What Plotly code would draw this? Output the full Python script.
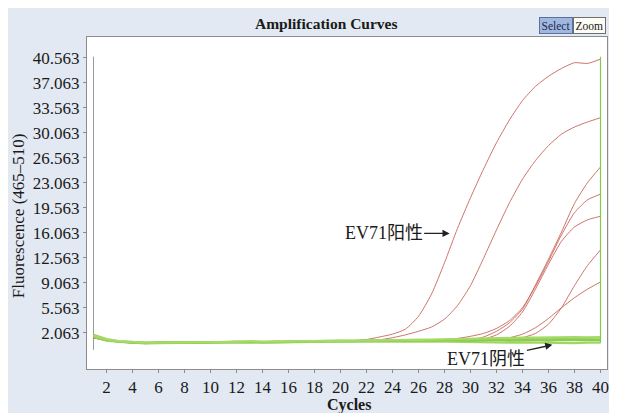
import plotly.graph_objects as go

cycles = list(range(1, 41))

# positive (red) curves
red_a = [1.45,1.05,0.85,0.7,0.7,0.75,0.8,0.75,0.75,0.8,0.85,0.9,0.85,0.8,0.85,0.9,0.9,0.95,0.9,0.95,
         1.0,1.15,1.5,1.9,2.6,4.4,7.5,11.9,16.7,21.0,25.0,28.7,31.9,34.6,36.6,38.0,39.1,39.9,39.8,40.4]
red_b = [1.4,1.0,0.8,0.7,0.65,0.7,0.75,0.8,0.7,0.75,0.8,0.85,0.8,0.85,0.9,0.85,0.9,0.9,0.95,1.0,
         1.0,1.05,1.1,1.4,1.8,2.3,2.9,4.0,5.9,8.7,12.5,16.5,20.3,23.6,26.2,28.3,29.9,30.9,31.6,32.2]
red_c = [1.5,1.05,0.8,0.65,0.7,0.75,0.7,0.75,0.8,0.75,0.8,0.85,0.9,0.85,0.8,0.9,0.85,0.9,0.95,0.9,
         0.95,1.0,0.95,1.0,1.05,1.0,1.05,1.0,1.05,1.1,1.5,2.3,3.5,5.4,8.8,12.4,16.2,20.2,23.1,25.3]
red_d = [1.35,1.0,0.8,0.7,0.7,0.7,0.75,0.7,0.75,0.8,0.8,0.8,0.85,0.8,0.85,0.85,0.9,0.85,0.9,0.95,
         0.95,1.0,1.0,1.05,1.0,1.1,1.05,1.15,1.3,1.6,2.0,2.7,3.8,5.6,8.6,12.1,15.8,18.9,20.7,21.5]
red_e = [1.45,1.0,0.85,0.7,0.65,0.7,0.7,0.75,0.75,0.7,0.8,0.85,0.8,0.8,0.9,0.85,0.85,0.9,0.9,0.95,
         0.9,0.95,1.0,0.95,1.0,1.05,1.0,1.05,1.1,1.05,1.2,1.8,3.0,5.0,8.2,11.7,14.9,16.9,17.9,18.4]
red_f = [1.4,1.05,0.8,0.7,0.7,0.7,0.75,0.75,0.8,0.75,0.8,0.8,0.85,0.85,0.8,0.85,0.9,0.9,0.85,0.9,
         0.95,0.95,1.0,0.95,1.0,1.0,1.05,1.0,1.05,1.0,1.05,1.0,1.1,1.4,2.0,3.3,5.6,8.7,11.5,13.7]
red_g = [1.5,1.0,0.85,0.65,0.65,0.75,0.7,0.8,0.75,0.8,0.75,0.85,0.85,0.8,0.85,0.9,0.85,0.95,0.9,0.9,
         1.0,0.95,1.0,1.0,1.05,1.0,1.0,1.05,1.0,1.05,1.0,1.1,1.4,1.9,2.8,4.1,5.6,7.0,8.2,9.2]
red_series = [red_a, red_b, red_c, red_d, red_e, red_f, red_g]

# negative (green) curves
green_1 = [1.8,1.2,0.9,0.75,0.7,0.75,0.8,0.8,0.75,0.8,0.85,0.9,0.85,0.8,0.85,0.9,0.95,0.9,0.95,1.0,
           0.95,1.0,1.05,1.0,1.05,1.1,1.05,1.1,1.15,1.2,1.15,1.2,1.25,1.2,1.3,1.25,1.3,1.35,1.3,1.4]
green_2 = [1.5,1.0,0.8,0.65,0.6,0.65,0.7,0.65,0.7,0.7,0.75,0.8,0.75,0.7,0.75,0.8,0.8,0.8,0.85,0.85,
           0.8,0.85,0.9,0.85,0.8,0.85,0.9,0.85,0.8,0.75,0.8,0.75,0.7,0.75,0.7,0.75,0.7,0.65,0.7,0.7]
green_3 = [1.6,1.1,0.85,0.7,0.65,0.7,0.75,0.75,0.7,0.75,0.8,0.85,0.8,0.75,0.8,0.85,0.85,0.9,0.9,0.9,
           0.95,0.9,0.95,1.0,0.95,1.0,1.05,1.0,1.05,1.0,1.05,1.1,1.0,1.05,1.1,1.0,1.1,1.05,1.1,1.05]
green_4 = [1.7,1.15,0.9,0.75,0.7,0.7,0.75,0.8,0.8,0.8,0.8,0.9,0.9,0.85,0.85,0.9,0.9,0.95,0.95,0.95,
           1.0,1.0,1.0,1.05,1.1,1.1,1.15,1.2,1.2,1.25,1.3,1.35,1.35,1.4,1.4,1.45,1.45,1.5,1.45,1.5]
green_series = [green_1, green_2, green_3, green_4]
green_colors = ["rgb(150,210,90)", "rgb(160,215,100)", "rgb(140,204,80)", "rgb(165,218,105)"]

# vertical marker lines at first / last cycle
left_line_x = [1, 1]
left_line_y = [-0.3, 40.75]
right_line_x = [40, 40]
right_line_y = [0.7, 40.75]

y_ticks = [2.063, 5.563, 9.063, 12.563, 16.063, 19.563, 23.063, 26.563, 30.063, 33.563, 37.063, 40.563]
y_tick_text = ["2.063", "5.563", "9.063", "12.563", "16.063", "19.563", "23.063", "26.563",
               "30.063", "33.563", "37.063", "40.563"]
x_ticks = list(range(2, 41, 2))

SERIF = "Liberation Serif, Times New Roman, serif"
CJK = "Liberation Serif, Noto Sans CJK SC, serif"

fig = go.Figure()
fig.add_trace(go.Scatter(x=left_line_x, y=left_line_y, mode="lines",
                         line=dict(color="#9a9a9a", width=1), hoverinfo="skip"))
for s in red_series:
    fig.add_trace(go.Scatter(x=cycles, y=s, mode="lines",
                             line=dict(color="rgb(200,100,90)", width=0.9,
                                       shape="spline", smoothing=0.6)))
for s, c in zip(green_series, green_colors):
    fig.add_trace(go.Scatter(x=cycles, y=s, mode="lines", line=dict(color=c, width=2.2)))
fig.add_trace(go.Scatter(x=right_line_x, y=right_line_y, mode="lines",
                         line=dict(color="rgb(130,200,80)", width=1.2), hoverinfo="skip"))

# page has an 8px body margin; figure occupies page x 8..617, y 8..413
OFF = 8
W, H = 609, 405
L, R, T, B = 79, 8, 29, 44
pw, ph = W - L - R, H - T - B

def px(xpage):
    return (xpage - OFF - L) / pw

def py(ypage):
    return (H - B - (ypage - OFF)) / ph

fig.update_layout(
    width=W, height=H,
    margin=dict(l=L, r=R, t=T, b=B),
    paper_bgcolor="#e2e9f2",
    plot_bgcolor="white",
    showlegend=False,
    xaxis=dict(range=[0.5, 40.5], tickvals=x_ticks, showgrid=False, zeroline=False,
               showline=True, mirror=True, linecolor="#8c8c8c", linewidth=1,
               ticks="outside", ticklen=3, tickcolor="#8c8c8c",
               tickfont=dict(family=SERIF, size=17, color="#1a1a1a")),
    yaxis=dict(range=[-2.98, 43.5], tickvals=y_ticks, ticktext=y_tick_text, showgrid=False,
               zeroline=False, showline=True, mirror=True, linecolor="#8c8c8c", linewidth=1,
               ticks="outside", ticklen=3, tickcolor="#8c8c8c",
               tickfont=dict(family=SERIF, size=17, color="#1a1a1a")),
    annotations=[
        dict(text="<b>Amplification Curves</b>", xref="paper", yref="paper",
             x=px(327), y=py(24), xanchor="center", yanchor="middle", showarrow=False,
             font=dict(family=SERIF, size=15.5, color="#1a1a1a")),
        dict(text="<b>Cycles</b>", xref="paper", yref="paper",
             x=px(350), y=py(405), xanchor="center", yanchor="middle", showarrow=False,
             font=dict(family=SERIF, size=16, color="#1a1a1a")),
        dict(text="Fluorescence (465–510)", xref="paper", yref="paper",
             x=px(18), y=py(216), xanchor="center", yanchor="middle", showarrow=False,
             textangle=-90, font=dict(family=SERIF, size=17, color="#1a1a1a")),
        dict(text="Select", xref="paper", yref="paper", x=px(558), y=py(25),
             xanchor="center", yanchor="middle", showarrow=False,
             font=dict(family=SERIF, size=11.5, color="#1a2a50"),
             bgcolor="rgb(160,184,222)", bordercolor="rgb(90,110,160)", borderwidth=1, borderpad=1.5),
        dict(text="Zoom", xref="paper", yref="paper", x=px(591), y=py(25),
             xanchor="center", yanchor="middle", showarrow=False,
             font=dict(family=SERIF, size=11.5, color="#1a1a1a"),
             bgcolor="rgb(252,252,244)", bordercolor="rgb(110,110,110)", borderwidth=1, borderpad=1.5),
        dict(text="EV71阳性", x=28.55, y=16.0, xref="x", yref="y",
             ax=-68, ay=0, showarrow=True, arrowhead=2, arrowsize=1.1, arrowwidth=1.3,
             arrowcolor="#222", standoff=2,
             font=dict(family=CJK, size=18, color="#1a1a1a")),
        dict(text="EV71阴性", x=36.3, y=0.4, xref="x", yref="y",
             ax=-66, ay=14, showarrow=True, arrowhead=2, arrowsize=1.1, arrowwidth=1.3,
             arrowcolor="#222", standoff=0,
             font=dict(family=CJK, size=18, color="#1a1a1a")),
    ],
)

fig.write_html("out.html")
